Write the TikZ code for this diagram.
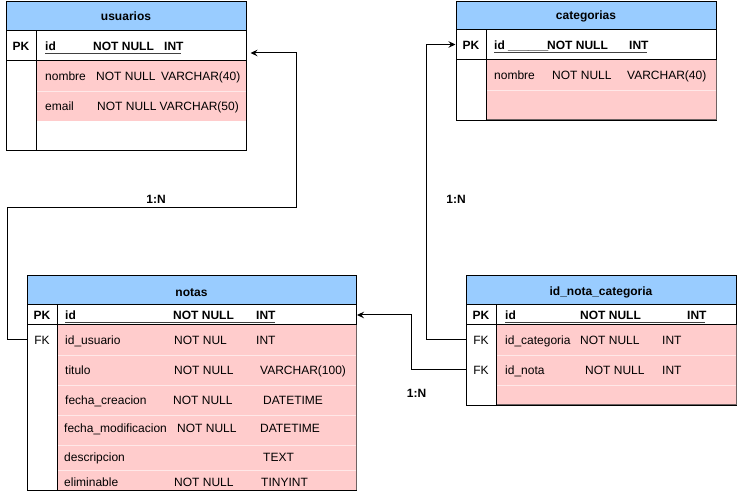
\documentclass[tikz,border=0pt]{standalone}
\usepackage{fontspec}
\setmainfont{Liberation Sans}
\usetikzlibrary{arrows.meta}
\definecolor{hdrblue}{HTML}{99CCFF}
\definecolor{rowpink}{HTML}{FFCCCC}
\definecolor{rowsep}{HTML}{FFE8E8}
\definecolor{pinkedge}{HTML}{6E6262}
\tikzset{
  tx/.style={anchor=base west, inner sep=0pt, font=\fontsize{12}{14}\selectfont},
  txb/.style={anchor=base west, inner sep=0pt, font=\fontsize{12}{14}\selectfont\bfseries},
  keytx/.style={anchor=base, inner sep=0pt, font=\fontsize{12}{14}\selectfont},
  keytxb/.style={anchor=base, inner sep=0pt, font=\fontsize{12}{14}\selectfont\bfseries},
  ttl/.style={anchor=base, inner sep=0pt, font=\fontsize{12}{14}\selectfont\bfseries},
  card/.style={anchor=center, inner sep=0pt, font=\fontsize{12}{14}\selectfont\bfseries},
  frame/.style={draw=black, line width=1pt},
  sepline/.style={draw=rowsep, line width=0.8pt},
  pedge/.style={draw=pinkedge, line width=1pt},
  uline/.style={draw=black!75, line width=0.9pt},
  conn/.style={draw=black, line width=1pt, -{Stealth[length=7pt,width=6.5pt,inset=2.5pt]}},
}
\begin{document}
\begin{tikzpicture}[x=1pt,y=-1pt]
\useasboundingbox (0,0) rectangle (737,494);
\fill[white] (0,0) rectangle (737,494);

% ---------------- usuarios ----------------
\fill[hdrblue] (6,1) rectangle (246,31);
\fill[rowpink] (36,61) rectangle (246,121);
\draw[sepline] (36,91) -- (246,91);
\node[frame, anchor=north west, minimum width=240pt, minimum height=149pt, inner sep=0pt] (usuarios) at (6,1) {};
\draw[frame] (6,31) -- (246,31);
\draw[frame] (6,61) -- (246,61);
\draw[frame] (36,31) -- (36,150);
\node[ttl] (usuT) at (126,20.5) {usuarios};
\node[keytxb] (usuK) at (21,51) {PK};
\node[txb] (usuId) at (45,51) {id};
\node[txb] (usuIdN) at (93,51) {NOT NULL};
\node[txb] (usuIdT) at (164,51) {INT};
\draw[uline] (45,53) -- (181,53);
\node[tx] (usuNo) at (45,81) {nombre};
\node[tx] (usuNoN) at (96,81) {NOT NULL};
\node[tx] (usuNoT) at (161,81) {VARCHAR(40)};
\node[tx] (usuEm) at (45,111) {email};
\node[tx] (usuEmN) at (97,111) {NOT NULL};
\node[tx] (usuEmT) at (159.5,111) {VARCHAR(50)};

% ---------------- categorias ----------------
\fill[hdrblue] (456,1) rectangle (716,30);
\fill[rowpink] (486,60) rectangle (716,120);
\draw[sepline] (486,90) -- (716,90);
\node[frame, anchor=north west, minimum width=260pt, minimum height=119pt, inner sep=0pt] (categorias) at (456,1) {};
\draw[frame] (456,30) -- (716,30);
\draw[frame] (456,60) -- (716,60);
\draw[frame] (486,30) -- (486,120);
\draw[pedge] (716,60.5) -- (716,120) -- (486.5,120);
\node[ttl] (catT) at (586,20) {categorias};
\node[keytxb] (catK) at (471,50) {PK};
\node[txb] (catId) at (494,50) {id \_\_\_\_\_\_};
\node[txb] (catIdN) at (547,50) {NOT NULL};
\node[txb] (catIdT) at (629,50) {INT};
\draw[uline] (494,52) -- (647,52);
\node[tx] (catNo) at (494,80) {nombre};
\node[tx] (catNoN) at (552,80) {NOT NULL};
\node[tx] (catNoT) at (627,80) {VARCHAR(40)};

% ---------------- notas ----------------
\fill[hdrblue] (27,275) rectangle (356,305);
\fill[rowpink] (57,325) rectangle (356,490);
\foreach \yy in {355,385,415,445,470} \draw[sepline] (57,\yy) -- (356,\yy);
\node[frame, anchor=north west, minimum width=329pt, minimum height=215pt, inner sep=0pt] (notas) at (27,275) {};
\draw[frame] (27,305) -- (356,305);
\draw[frame] (27,325) -- (356,325);
\draw[frame] (57,305) -- (57,490);
\draw[pedge] (356,325.5) -- (356,490);
\node[ttl] (notT) at (191.5,296.5) {notas};
\node[keytxb] (notK) at (42,320) {PK};
\node[txb] (notId) at (65,320) {id};
\node[txb] (notIdN) at (173,320) {NOT NULL};
\node[txb] (notIdT) at (256,320) {INT};
\draw[uline] (65,322.3) -- (275,322.3);
\node[keytx] (notFK) at (42,345) {FK};
\node[tx] (notU) at (65,345) {id\_usuario};
\node[tx] (notUN) at (174,345) {NOT NUL};
\node[tx] (notUT) at (256,345) {INT};
\node[tx] (notTi) at (65,375) {titulo};
\node[tx] (notTiN) at (174,375) {NOT NULL};
\node[tx] (notTiT) at (260,375) {VARCHAR(100)};
\node[tx] (notFc) at (65,405) {fecha\_creacion};
\node[tx] (notFcN) at (173,405) {NOT NULL};
\node[tx] (notFcT) at (263,405) {DATETIME};
\node[tx] (notFm) at (64,433) {fecha\_modificacion};
\node[tx] (notFmN) at (177,433) {NOT NULL};
\node[tx] (notFmT) at (260,433) {DATETIME};
\node[tx] (notDe) at (64,462) {descripcion};
\node[tx] (notDeT) at (263,462) {TEXT};
\node[tx] (notEl) at (64,486.5) {eliminable};
\node[tx] (notElN) at (174,486.5) {NOT NULL};
\node[tx] (notElT) at (261,486.5) {TINYINT};

% ---------------- id_nota_categoria ----------------
\fill[hdrblue] (466,275) rectangle (736,305);
\fill[rowpink] (496,325) rectangle (736,405);
\foreach \yy in {355,385} \draw[sepline] (496,\yy) -- (736,\yy);
\node[frame, anchor=north west, minimum width=270pt, minimum height=130pt, inner sep=0pt] (notacat) at (466,275) {};
\draw[frame] (466,305) -- (736,305);
\draw[frame] (466,325) -- (736,325);
\draw[frame] (496,305) -- (496,405);
\draw[pedge] (736,325.5) -- (736,405) -- (496.5,405);
\node[ttl] (incT) at (601,296) {id\_nota\_categoria};
\node[keytxb] (incK) at (481,320) {PK};
\node[txb] (incId) at (505,320) {id};
\node[txb] (incIdN) at (580,320) {NOT NULL};
\node[txb] (incIdT) at (687,320) {INT};
\draw[uline] (505,322.3) -- (705,322.3);
\node[keytx] (incFK1) at (481,345) {FK};
\node[tx] (incC) at (505,345) {id\_categoria};
\node[tx] (incCN) at (580,345) {NOT NULL};
\node[tx] (incCT) at (662,345) {INT};
\node[keytx] (incFK2) at (481,375) {FK};
\node[tx] (incN) at (505,375) {id\_nota};
\node[tx] (incNN) at (585,375) {NOT NULL};
\node[tx] (incNT) at (662,375) {INT};

% ---------------- connector anchor points ----------------
\coordinate (usuPKin) at (250.5,53);
\coordinate (notFKout) at (27,340);
\coordinate (bendA) at (7,208);
\coordinate (bendB) at (296.5,208);

\coordinate (notPKin) at (357,315);
\coordinate (incFK2out) at (466,370);
\coordinate (bendC) at (411.5,370);

\coordinate (catPKin) at (455.5,44.5);
\coordinate (incFK1out) at (466,340);
\coordinate (bendD) at (426.5,340);

% ---------------- connectors ----------------
\draw[conn] (notFKout) -| (bendA) -- (bendB) |- (usuPKin);
\draw[conn] (incFK2out) -- (bendC) |- (notPKin);
\draw[conn] (incFK1out) -- (bendD) |- (catPKin);

% ---------------- cardinality labels ----------------
\node[card] (cardA) at (156,199) {1:N};
\node[card] (cardB) at (456,199) {1:N};
\node[card] (cardC) at (416.5,393) {1:N};
\end{tikzpicture}
\end{document}
